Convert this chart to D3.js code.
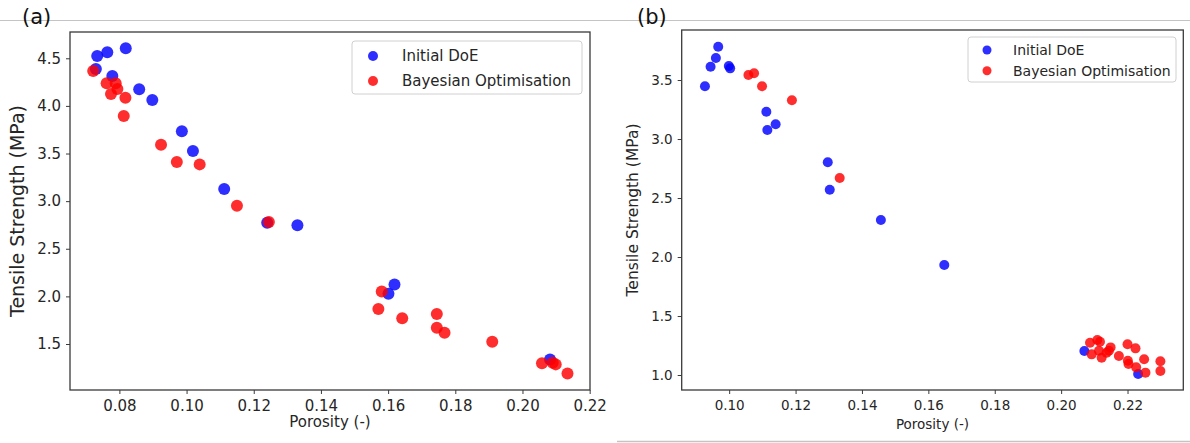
<!DOCTYPE html>
<html><head><meta charset="utf-8">
<script src="https://cdn.jsdelivr.net/npm/d3@7"></script>
<style>html,body{margin:0;padding:0;background:#fff;}svg{display:block;font-family:"DejaVu Sans",sans-serif;}</style>
</head><body>
<svg id="c" width="1190" height="443"></svg>
<script>
// ---------- Data ----------
const seriesNames = ["Initial DoE", "Bayesian Optimisation"];

// Panel (a)
const aDoeX = [0.0734,0.0764,0.0819,0.0730,0.0779,0.0859,0.0898,0.0986,0.1019,0.1112,0.1240,0.1330,0.1619,0.1601,0.2082];
const aDoeY = [4.524,4.563,4.605,4.388,4.314,4.174,4.062,3.733,3.526,3.127,2.773,2.746,2.125,2.028,1.338];
const aBoX  = [0.0722,0.0762,0.0789,0.0794,0.0775,0.0818,0.0813,0.0924,0.0971,0.1039,0.1150,0.1245,
               0.1581,0.1571,0.1642,0.1745,0.1745,0.1768,0.1910,0.2058,0.2090,0.2099,0.2134];
const aBoY  = [4.367,4.237,4.237,4.178,4.125,4.086,3.894,3.592,3.411,3.386,2.952,2.780,
               2.052,1.868,1.771,1.816,1.670,1.618,1.524,1.299,1.303,1.286,1.191];
const aXTicks = [0.08,0.10,0.12,0.14,0.16,0.18,0.20,0.22];
const aYTicks = [1.5,2.0,2.5,3.0,3.5,4.0,4.5];
const aXDomain = [0.0653, 0.2201];
const aYDomain = [1.017, 4.776];

// Panel (b)
const bDoeX = [0.0927,0.0944,0.0960,0.0967,0.0999,0.1003,0.1112,0.1115,0.1140,0.1297,0.1303,0.1457,0.1648,0.2070,0.2232];
const bDoeY = [3.447,3.613,3.686,3.782,3.619,3.599,3.231,3.076,3.125,2.803,2.570,2.314,1.932,1.203,1.008];
const bBoX  = [0.1058,0.1075,0.1099,0.1189,0.1333,
               0.2087,0.2109,0.2117,0.2092,0.2114,0.2122,0.2137,0.2144,0.2149,0.2174,
               0.2200,0.2224,0.2201,0.2203,0.2226,0.2250,0.2254,0.2299,0.2299];
const bBoY  = [3.542,3.557,3.447,3.328,2.669,
               1.274,1.297,1.282,1.175,1.206,1.147,1.189,1.206,1.234,1.161,
               1.260,1.226,1.121,1.093,1.065,1.133,1.020,1.116,1.034];
const bXTicks = [0.10,0.12,0.14,0.16,0.18,0.20,0.22];
const bYTicks = [1.0,1.5,2.0,2.5,3.0,3.5];
const bXDomain = [0.0857, 0.2368];
const bYDomain = [0.873, 3.924];

// ---------- Drawing ----------
const svg = d3.select("#c");
const textCol = "#262626", spineCol = "#3a3a3a";
const blue = "#0000ff", red = "#ff0000";

// screenshot separators
svg.append("line").attr("x1",0).attr("x2",1190).attr("y1",20.5).attr("y2",20.5).attr("stroke","#c4c4c4").attr("stroke-width",1);
svg.append("line").attr("x1",617).attr("x2",1190).attr("y1",441.5).attr("y2",441.5).attr("stroke","#c4c4c4").attr("stroke-width",1.5);

function panel(o) {
  const x = d3.scaleLinear().domain(o.xDomain).range([o.left, o.right]);
  const y = d3.scaleLinear().domain(o.yDomain).range([o.bottom, o.top]);
  const g = svg.append("g");

  // points
  const doe = o.doeX.map((v,i)=>[v,o.doeY[i]]);
  const bo = o.boX.map((v,i)=>[v,o.boY[i]]);
  g.selectAll(null).data(doe).enter().append("circle")
    .attr("cx",d=>x(d[0])).attr("cy",d=>y(d[1])).attr("r",o.r)
    .attr("fill",blue).attr("fill-opacity",0.82);
  g.selectAll(null).data(bo).enter().append("circle")
    .attr("cx",d=>x(d[0])).attr("cy",d=>y(d[1])).attr("r",o.r)
    .attr("fill",red).attr("fill-opacity",0.82);

  // axes
  const xa = g.append("g").attr("transform",`translate(0,${o.bottom})`)
    .call(d3.axisBottom(x).tickValues(o.xTicks).tickFormat(d3.format(".2f")).tickSize(4).tickPadding(6).tickSizeOuter(0));
  const ya = g.append("g").attr("transform",`translate(${o.left},0)`)
    .call(d3.axisLeft(y).tickValues(o.yTicks).tickFormat(d3.format(".1f")).tickSize(4).tickPadding(5).tickSizeOuter(0));
  [xa,ya].forEach(a=>{
    a.select(".domain").remove();
    a.selectAll(".tick line").attr("stroke",spineCol).attr("stroke-width",1);
    a.selectAll(".tick text").attr("fill",textCol).attr("font-size",o.tickFs).attr("font-family","DejaVu Sans");
  });

  // frame
  g.append("rect").attr("x",o.left).attr("y",o.top).attr("width",o.right-o.left).attr("height",o.bottom-o.top)
    .attr("fill","none").attr("stroke",spineCol).attr("stroke-width",1.3);

  // labels
  g.append("text").attr("x",(o.left+o.right)/2).attr("y",o.xLabY).attr("text-anchor","middle")
    .attr("font-size",o.xLabFs).attr("fill",textCol).text("Porosity (-)");
  g.append("text").attr("transform",`translate(${o.yLabX},${(o.top+o.bottom)/2}) rotate(-90)`)
    .attr("text-anchor","middle").attr("dominant-baseline","central")
    .attr("font-size",o.yLabFs).attr("fill",textCol).text("Tensile Strength (MPa)");
  g.append("text").attr("x",o.tagX).attr("y",24).attr("font-size",21).attr("fill","#111").text(o.tag);

  // legend
  const L = o.legend;
  g.append("rect").attr("x",L.x).attr("y",L.y).attr("width",L.w).attr("height",L.h).attr("rx",3)
    .attr("fill","#fff").attr("fill-opacity",0.8).attr("stroke","#d0d0d0").attr("stroke-width",1);
  [blue,red].forEach((c,i)=>{
    g.append("circle").attr("cx",L.mx).attr("cy",L.y1 + i*L.dy).attr("r",L.r).attr("fill",c).attr("fill-opacity",0.82);
    g.append("text").attr("x",L.tx).attr("y",L.y1 + i*L.dy).attr("dominant-baseline","central")
      .attr("font-size",L.fs).attr("fill",textCol).text(seriesNames[i]);
  });
}

panel({
  left:70, right:590, top:32, bottom:390,
  xDomain:aXDomain, yDomain:aYDomain, xTicks:aXTicks, yTicks:aYTicks,
  doeX:aDoeX, doeY:aDoeY, boX:aBoX, boY:aBoY, r:6,
  tickFs:15, xLabFs:15, xLabY:427, yLabFs:19, yLabX:17, tag:"(a)", tagX:22,
  legend:{x:352, y:41, w:230, h:53, mx:373, tx:402, y1:56, dy:25, r:5, fs:15}
});
panel({
  left:681.7, right:1183.3, top:30, bottom:390,
  xDomain:bXDomain, yDomain:bYDomain, xTicks:bXTicks, yTicks:bYTicks,
  doeX:bDoeX, doeY:bDoeY, boX:bBoX, boY:bBoY, r:5,
  tickFs:13.5, xLabFs:13.5, xLabY:429, yLabFs:15.5, yLabX:633, tag:"(b)", tagX:637,
  legend:{x:968, y:37, w:208, h:45, mx:987, tx:1013, y1:50, dy:20.7, r:4.5, fs:14}
});
</script>
</body></html>
